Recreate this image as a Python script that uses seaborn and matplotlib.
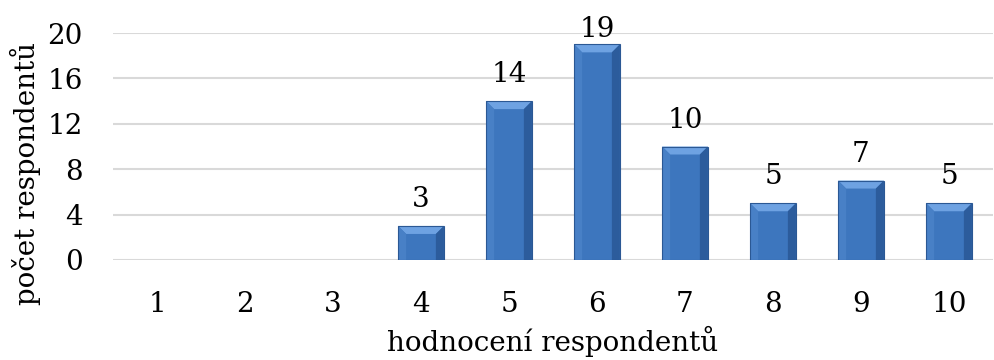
import matplotlib
matplotlib.use("Agg")
import matplotlib.pyplot as plt
import seaborn as sns
import pandas as pd
from matplotlib.patches import Polygon

ratings = ["1", "2", "3", "4", "5", "6", "7", "8", "9", "10"]
counts = [0, 0, 0, 3, 14, 19, 10, 5, 7, 5]
y_ticks = [0, 4, 8, 12, 16, 20]

df = pd.DataFrame({"hodnoceni": ratings, "pocet": counts})

sns.set_theme(style="white")
plt.rcParams["font.family"] = ["DejaVu Serif"]

W, H, DPI = 995, 360, 100
fig = plt.figure(figsize=(W / DPI, H / DPI), dpi=DPI)
ax = fig.add_axes([113 / W, 1 - 260 / H, (993 - 113) / W, (260 - 33) / H])

face = "#3D76BE"
sns.barplot(data=df, x="hodnoceni", y="pocet", color=face, width=0.52,
            saturation=1, ax=ax, zorder=3, edgecolor="none", linewidth=0)

ax.set_ylim(0, 20)
ax.set_xlim(-0.5, len(ratings) - 0.5)
ax.set_yticks(y_ticks)
ax.set_yticklabels([str(t) for t in y_ticks])
ax.grid(axis="y", color="#D9D9D9", linewidth=1.5, zorder=0)
ax.grid(axis="x", visible=False)
for s in ax.spines.values():
    s.set_visible(False)
ax.tick_params(axis="both", length=0, labelsize=20, colors="black")
ax.tick_params(axis="y", pad=22)
ax.tick_params(axis="x", pad=22)

ax.set_xlabel("hodnocení respondentů", fontsize=20, color="black")
ax.set_ylabel("počet respondentů", fontsize=20, color="black")
ax.xaxis.set_label_coords(0.5, -0.292)
ax.yaxis.set_label_coords(-0.082, 0.38)

# bevel shading on each bar
fig.canvas.draw()
to_data = ax.transData.inverted()
px_x = abs(to_data.transform((8, 0))[0] - to_data.transform((0, 0))[0])
px_y = abs(to_data.transform((0, 0))[1] - to_data.transform((0, 8))[1])
for p in ax.patches:
    x0, y0 = p.get_x(), p.get_y()
    w, h = p.get_width(), p.get_height()
    if h <= 0:
        continue
    x1, y1 = x0 + w, y0 + h
    b = min(px_y, h / 2)
    shades = [
        ([(x0, y1), (x1, y1), (x1 - px_x, y1 - b), (x0 + px_x, y1 - b)], "#6EA2E2"),
        ([(x0, y0), (x0, y1), (x0 + px_x, y1 - b), (x0 + px_x, y0)], "#4880C6"),
        ([(x1, y0), (x1, y1), (x1 - px_x, y1 - b), (x1 - px_x, y0)], "#2C5C9C"),
    ]
    for pts, c in shades:
        ax.add_patch(Polygon(pts, closed=True, facecolor=c, edgecolor="none", zorder=4))
    ax.add_patch(Polygon([(x0, y0), (x0, y1), (x1, y1), (x1, y0)], closed=True,
                         fill=False, edgecolor="#2B5894", linewidth=0.8, zorder=5))

# value labels above the bars, kept inside the top of the chart area
gap_px = 19
top_px = 37  # lowest allowed baseline distance from the figure top
for i, v in enumerate(counts):
    if v <= 0:
        continue
    bar_top_px = ax.transData.transform((i, v))[1]
    base_px = min(bar_top_px + gap_px, H - top_px)
    off_pt = (base_px - bar_top_px) * 72 / DPI
    ax.annotate(str(v), (i, v), xytext=(0, off_pt), textcoords="offset points",
                ha="center", va="baseline", fontsize=20, color="black",
                annotation_clip=False, zorder=6)

fig.savefig("out.png", dpi=DPI)
